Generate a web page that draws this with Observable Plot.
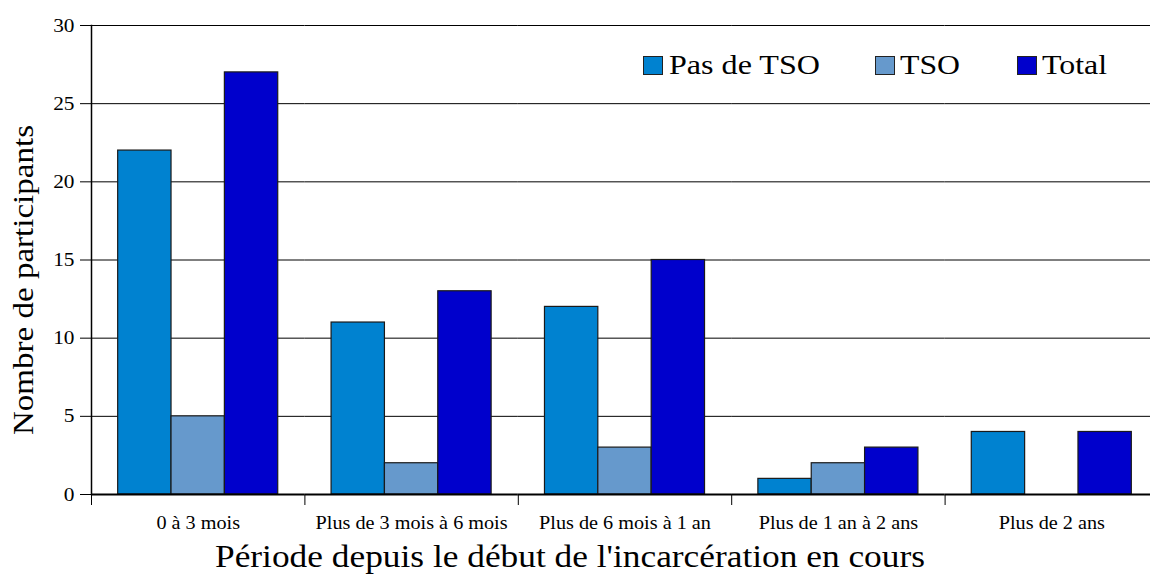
<!DOCTYPE html>
<html><head><meta charset="utf-8">
<script src="https://cdn.jsdelivr.net/npm/d3@7"></script>
<script src="https://cdn.jsdelivr.net/npm/@observablehq/plot@0.6"></script>
<style>
html,body{margin:0;padding:0;background:#fff;overflow:hidden;}
#wrap{position:relative;width:1150px;height:576px;overflow:hidden;font-family:"Liberation Serif","DejaVu Serif",serif;color:#000;}
.t{position:absolute;white-space:nowrap;line-height:1;}
.sq{position:absolute;width:18px;height:17px;border:1px solid #222;}
</style></head><body><div id="wrap"></div>
<script>
const categories = ["0 à 3 mois","Plus de 3 mois à 6 mois","Plus de 6 mois à 1 an","Plus de 1 an à 2 ans","Plus de 2 ans"];
const series = ["Pas de TSO","TSO","Total"];
const pasDeTSO = [22,11,12,1,4];
const tso = [5,2,3,2,0];
const total = [27,13,15,3,4];
const colors = ["#0082D0","#6699CC","#0000CC"];
const yTicks = [0,5,10,15,20,25,30];
const yTitle = "Nombre de participants";
const xTitle = "Période depuis le début de l'incarcération en cours";

const values = [pasDeTSO, tso, total];
const data = categories.flatMap((c,i)=>series.map((s,j)=>({category:c, series:s, value:values[j][i]})));

// the reference plot area runs slightly past the right edge of the picture
const W=1150,H=576,ML=91,MR=-8,MT=25,MB=82;
const halfBand=(W-ML-MR)/categories.length/2;
const font='"Liberation Serif","DejaVu Serif",serif';

const chart = Plot.plot({
  width:W,height:H,marginLeft:ML,marginRight:MR,marginTop:MT,marginBottom:MB,
  style:{fontFamily:font,fontSize:"18px",color:"#000",background:"#fff"},
  fx:{domain:categories,padding:0,round:false,label:null,axis:null},
  x:{domain:series,paddingInner:0,paddingOuter:0.5,round:false,axis:null},
  y:{domain:[0,30],axis:null},
  color:{domain:series,range:colors},
  marks:[
    Plot.ruleY(yTicks.filter(d=>d>0),{stroke:"#000",strokeWidth:1}),
    Plot.barY(data.filter(d=>d.value>0),{fx:"category",x:"series",y:"value",fill:"series",stroke:"#1a1a1a",strokeWidth:1.2}),
    Plot.ruleY([0],{stroke:"#000",strokeWidth:2}),
    Plot.frame({anchor:"left",facetAnchor:"left",stroke:"#000",strokeWidth:1.5}),
    Plot.axisY({ticks:yTicks,tickSize:11,tickPadding:6,label:null,fontSize:19,stroke:"#000"}),
    Plot.axisFx({anchor:"bottom",tickSize:0,tickPadding:22,label:null,fontSize:18}),
    Plot.axisFx({anchor:"bottom",tickSize:11,tickFormat:()=>"",label:null,dx:-halfBand,stroke:"#000"})
  ]
});
const wrap=document.getElementById("wrap");
wrap.appendChild(chart);

// horizontal stretch of axis texts so that the widest category label matches the reference width
let ref=null;
chart.querySelectorAll("text").forEach(t=>{ if(t.textContent===categories[1]) ref=t; });
const k = ref ? 192/ref.getComputedTextLength() : 1.13;
chart.querySelectorAll("text").forEach(t=>{
  const L=t.getComputedTextLength();
  if(L>0){t.setAttribute("textLength",(L*k).toFixed(1));t.setAttribute("lengthAdjust","spacingAndGlyphs");}
});

function addText(txt,size,opts){
  const s=document.createElement("span");
  s.className="t";s.textContent=txt;s.style.fontSize=size+"px";
  wrap.appendChild(s);
  const w=s.getBoundingClientRect().width;
  const kk=opts.target/w;
  s.style.left=opts.x+"px";s.style.top=opts.y+"px";
  if(opts.rotate){
    s.style.transform=`translate(-50%,-50%) rotate(-90deg) scaleX(${kk})`;
  }else if(opts.center){
    s.style.transform=`translate(-50%,-50%) scaleX(${kk})`;
  }else{
    s.style.transformOrigin="left top";
    s.style.transform=`scaleX(${kk})`;
  }
  return s;
}
addText(yTitle,29,{x:23,y:280,target:310,rotate:true});
addText(xTitle,31,{x:570,y:556,target:710,center:true});

const legendSq=[643,875,1017], legendTx=[669,900,1042], legendW=[151,60,65];
series.forEach((s,i)=>{
  const q=document.createElement("div");q.className="sq";
  q.style.left=legendSq[i]+"px";q.style.top="56px";q.style.background=colors[i];
  wrap.appendChild(q);
  addText(s,28,{x:legendTx[i],y:51,target:legendW[i]});
});
</script></body></html>
